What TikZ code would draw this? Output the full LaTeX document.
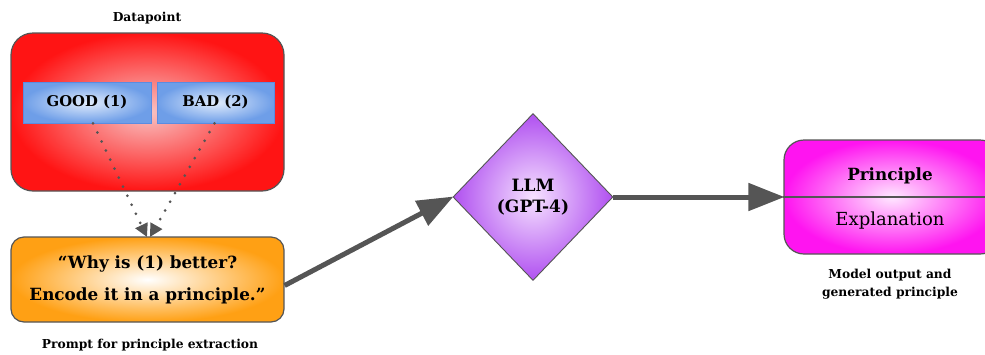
\documentclass[tikz,border=0pt]{standalone}
\usepackage{fontspec}
\setmainfont{DejaVu Serif}
\usetikzlibrary{shapes.geometric,arrows.meta}
\definecolor{edge}{HTML}{555555}
\tikzset{
  boxline/.style={draw=edge, line width=1.2pt},
  caption/.style={font=\bfseries\fontsize{12.3}{18}\selectfont, align=center},
  bluebox/.style={draw={rgb,255:red,90;green,140;blue,225}, line width=0.9pt, inner color={rgb,255:red,225;green,236;blue,252}, outer color={rgb,255:red,110;green,158;blue,232}, minimum height=41pt, inner sep=0pt, font=\bfseries\fontsize{14.8}{17}\selectfont},
  bigarrow/.style={draw=edge, line width=5pt, -{Triangle[length=36pt,width=27pt]}, shorten >=-1pt},
  dotline/.style={draw=edge, line width=3pt, line cap=round, dash pattern=on 0pt off 10pt, -{Triangle[length=13pt,width=13pt]}},
}
\begin{document}
\begin{tikzpicture}[x=1pt,y=-1pt]
\useasboundingbox (0,0) rectangle (985,354);
% Datapoint
\node[caption] (dplab) at (147,18) {Datapoint};
\node[boxline, rounded corners=22pt, inner color={rgb,255:red,248;green,196;blue,196}, outer color={rgb,255:red,255;green,20;blue,20}, minimum width=273pt, minimum height=158pt, inner sep=0pt] (dp) at (147.5,112) {};
\node[bluebox, minimum width=128pt] (good) at (87,102.5) {GOOD (1)};
\node[bluebox, minimum width=117pt] (bad) at (215.5,102.5) {BAD (2)};
% Prompt
\node[boxline, rounded corners=13pt, inner color=white, outer color={rgb,255:red,255;green,160;blue,20}, minimum width=273pt, minimum height=85pt, inner sep=0pt, align=center, font=\bfseries\fontsize{16.8}{32}\selectfont] (prompt) at (147.5,279.5) {“Why is (1) better?\\Encode it in a principle.”};
\node[caption] (plab) at (150,345) {Prompt for principle extraction};
\coordinate (pin) at (148,237);
\draw[dotline] (good.south) ++(6,0) -- ([xshift=-1pt]pin);
\draw[dotline] (bad.south) ++(-1,0) -- ([xshift=2pt]pin);
% LLM
\node[diamond, draw=edge, line width=0.9pt, aspect=0.96, minimum width=160pt, minimum height=167pt, inner sep=0pt, inner color={rgb,255:red,246;green,226;blue,255}, outer color={rgb,255:red,176;green,80;blue,240}, align=center, font=\bfseries\fontsize{17}{21}\selectfont] (llm) at (533,197) {LLM\\(GPT-4)};
% Output
\node[boxline, rounded corners=20pt, inner color={rgb,255:red,255;green,232;blue,255}, outer color={rgb,255:red,255;green,20;blue,240}, minimum width=216pt, minimum height=114pt, inner sep=0pt] (out) at (892,197) {};
\draw[edge, line width=1.2pt] (out.west) -- (out.east);
\node[font=\bfseries\fontsize{16.8}{20}\selectfont] (pr) at (890,176) {Principle};
\node[font=\fontsize{18}{21}\selectfont] (ex) at (890,221) {Explanation};
\node[caption] (olab) at (890,284) {Model output and\\generated principle};
% arrows
\draw[bigarrow] ([yshift=-6pt]prompt.east) -- (llm.west);
\draw[bigarrow] (llm.east) -- (out.west);
\end{tikzpicture}
\end{document}
